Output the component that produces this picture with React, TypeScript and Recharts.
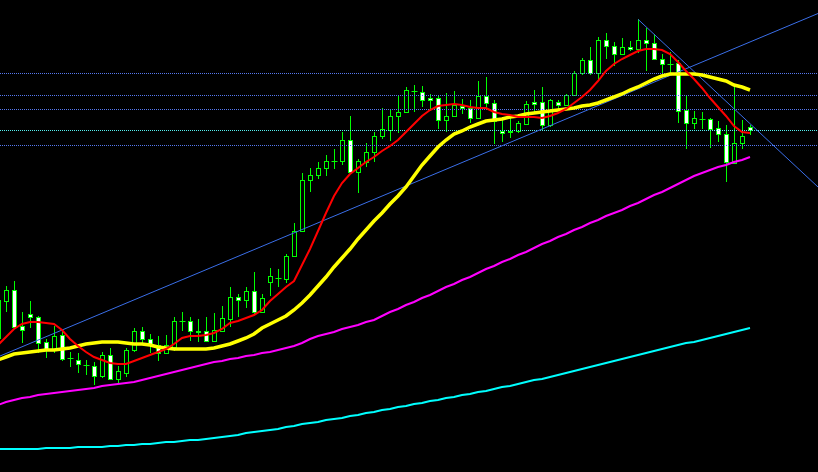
import { ComposedChart, Bar, Line, XAxis, YAxis, ReferenceLine } from "recharts";

// bar index of the first entry (the one half cut off at the left edge)
const FIRST_BAR = -1;

const opens = [
  113.4, 117.1, 118.2, 114.6, 115.8, 115.5, 113.0, 112.2, 113.7, 111.4, 111.2, 110.7, 110.6, 109.6, 111.7, 109.3, 109.9,
  112.2, 114.1, 113.3, 112.7, 111.9, 112.5, 115.1, 115.1, 114.1, 114.1, 113.1, 114.1, 115.3, 117.5, 117.2, 118.1,
  116.0, 119.0, 119.4, 119.3, 121.6, 124.1, 129.2, 129.7, 130.4, 131.1, 131.1, 133.2, 130.0, 131.0, 132.0, 133.6,
  134.2, 135.6, 136.0, 138.1, 138.0, 137.4, 137.4, 135.2, 135.6, 136.6, 136.4, 135.4, 137.6, 136.9, 134.1, 134.1,
  134.1, 134.8, 137.0, 137.0, 134.7, 137.0, 136.7, 137.7, 139.9, 141.2, 139.9, 143.2, 142.6, 141.8, 142.5, 142.3,
  143.2, 142.9, 141.3, 140.8, 140.9, 136.2, 134.9, 135.3, 135.3, 134.4, 133.8, 130.9, 132.9, 134.5,
];
const highs = [
  117.6, 118.6, 119.1, 116.0, 117.1, 115.6, 113.3, 114.6, 114.2, 112.0, 111.9, 111.2, 111.0, 112.0, 112.4, 110.6, 112.4,
  114.4, 114.5, 113.8, 113.6, 113.7, 115.5, 116.0, 115.5, 115.3, 115.5, 115.9, 116.6, 118.5, 117.8, 118.5, 120.0,
  117.8, 120.4, 120.3, 121.8, 124.9, 129.9, 130.4, 131.0, 131.7, 132.3, 134.0, 135.6, 131.3, 132.9, 134.0, 136.4,
  136.3, 137.7, 138.5, 138.7, 138.6, 137.8, 137.7, 137.9, 138.1, 137.3, 137.2, 139.1, 139.5, 137.2, 135.2, 135.5,
  135.1, 137.1, 138.2, 138.5, 137.3, 137.2, 137.8, 140.1, 141.4, 142.5, 143.5, 143.9, 143.0, 143.4, 143.1, 145.3,
  144.4, 143.8, 141.8, 142.0, 141.2, 137.6, 136.1, 136.0, 135.4, 135.1, 134.7, 138.6, 135.2, 134.7,
];
const lows = [
  113.2, 116.0, 114.4, 112.9, 114.4, 111.9, 111.4, 111.9, 111.1, 110.5, 109.9, 109.7, 108.7, 109.4, 109.2, 108.8, 109.5,
  112.0, 112.8, 111.9, 111.1, 111.9, 112.1, 114.1, 113.1, 113.0, 113.0, 113.0, 114.0, 114.5, 115.5, 116.4, 115.8,
  115.9, 117.6, 118.5, 118.9, 121.5, 124.0, 128.0, 129.3, 129.6, 130.3, 130.7, 129.9, 127.9, 130.5, 131.0, 133.3,
  133.1, 133.9, 135.9, 136.0, 136.5, 136.1, 134.3, 134.0, 135.5, 135.8, 134.9, 135.3, 136.5, 132.8, 133.0, 133.4,
  133.9, 134.7, 135.9, 134.2, 134.5, 136.1, 136.6, 137.6, 139.7, 139.7, 139.2, 141.3, 140.6, 141.7, 142.1, 141.9,
  140.1, 141.2, 139.9, 139.7, 134.9, 132.3, 134.3, 134.3, 132.4, 133.0, 129.0, 130.9, 132.3, 133.7,
];
const closes = [
  117.2, 118.2, 114.5, 114.2, 115.5, 112.9, 112.2, 113.6, 111.3, 111.4, 110.8, 110.7, 109.6, 111.7, 109.3, 110.1, 112.2,
  114.1, 113.3, 112.7, 111.9, 112.7, 115.1, 115.1, 114.1, 114.0, 113.1, 114.2, 115.4, 117.5, 117.2, 118.1, 116.0,
  117.4, 119.6, 119.4, 121.6, 124.1, 129.2, 129.7, 130.4, 131.1, 131.1, 133.2, 130.0, 131.1, 132.0, 133.6, 134.3,
  135.6, 136.0, 138.2, 138.1, 137.2, 137.2, 135.2, 135.6, 136.7, 136.4, 135.4, 137.6, 136.9, 135.1, 133.9, 134.0,
  134.9, 136.8, 136.8, 134.7, 137.2, 136.7, 137.7, 139.9, 141.2, 139.9, 143.2, 142.6, 141.8, 142.5, 142.3, 143.2,
  142.9, 141.3, 140.8, 140.8, 136.1, 134.9, 135.4, 135.3, 134.3, 133.8, 131.0, 132.9, 133.6, 134.2,
];

// moving averages, one value per bar
const maRed = [
  112.7, 113.5, 114.3, 114.8, 115.0, 115.0, 114.9, 114.8, 114.2, 113.3, 112.6, 112.0, 111.5, 111.2, 110.9, 110.8, 110.8,
  111.1, 111.4, 111.7, 112.0, 112.3, 112.8, 113.4, 113.6, 113.6, 113.7, 113.9, 114.3, 114.9, 115.1, 115.4, 115.7,
  116.2, 117.1, 117.8, 118.5, 119.1, 120.7, 122.3, 124.1, 125.9, 127.6, 128.9, 129.8, 130.4, 131.0, 131.5, 132.1,
  132.6, 133.2, 134.0, 134.8, 135.6, 136.2, 136.6, 136.7, 136.8, 136.7, 136.5, 136.4, 136.4, 136.0, 135.8, 135.7,
  135.5, 135.5, 135.5, 135.4, 135.6, 135.9, 136.3, 136.9, 137.5, 138.2, 139.1, 140.1, 140.8, 141.3, 141.7, 142.1,
  142.3, 142.3, 142.2, 141.8, 141.0, 140.1, 139.3, 138.4, 137.4, 136.5, 135.6, 134.6, 134.0, 133.9,
];
const maYellow = [
  111.2, 111.5, 111.8, 111.9, 112.0, 112.1, 112.2, 112.2, 112.3, 112.4, 112.6, 112.8, 112.9, 113.0, 113.0, 113.0, 112.9,
  112.8, 112.8, 112.7, 112.5, 112.4, 112.3, 112.3, 112.3, 112.3, 112.3, 112.4, 112.6, 112.8, 113.1, 113.4, 113.8,
  114.4, 114.8, 115.2, 115.6, 116.2, 116.9, 117.7, 118.6, 119.5, 120.5, 121.4, 122.3, 123.3, 124.2, 125.1, 125.9,
  126.8, 127.6, 128.5, 129.6, 130.7, 131.6, 132.5, 133.2, 133.8, 134.1, 134.5, 134.8, 135.1, 135.2, 135.3, 135.5,
  135.6, 135.8, 135.9, 136.0, 136.1, 136.2, 136.3, 136.4, 136.6, 136.7, 136.9, 137.2, 137.5, 137.8, 138.2, 138.5,
  138.9, 139.3, 139.6, 139.8, 139.8, 139.8, 139.8, 139.7, 139.5, 139.3, 139.1, 138.7, 138.5, 138.2,
];
const maMagenta = [
  106.7, 107.0, 107.2, 107.4, 107.5, 107.7, 107.8, 107.9, 108.0, 108.1, 108.2, 108.3, 108.4, 108.6, 108.7, 108.8, 108.9,
  109.0, 109.2, 109.4, 109.6, 109.8, 110.0, 110.2, 110.4, 110.6, 110.8, 111.0, 111.1, 111.3, 111.4, 111.6, 111.7,
  111.9, 112.0, 112.2, 112.4, 112.6, 112.9, 113.3, 113.6, 113.8, 114.0, 114.3, 114.5, 114.7, 115.0, 115.2, 115.6,
  116.0, 116.3, 116.7, 117.0, 117.4, 117.7, 118.1, 118.5, 118.8, 119.2, 119.5, 119.9, 120.3, 120.6, 121.0, 121.3,
  121.7, 122.0, 122.4, 122.8, 123.1, 123.5, 123.8, 124.2, 124.5, 124.9, 125.2, 125.6, 125.9, 126.2, 126.6, 126.9,
  127.3, 127.7, 128.0, 128.4, 128.8, 129.2, 129.6, 129.9, 130.2, 130.5, 130.7, 131.0, 131.2, 131.5,
];
const maCyan = [
  102.3, 102.3, 102.3, 102.3, 102.3, 102.3, 102.4, 102.4, 102.4, 102.4, 102.5, 102.5, 102.5, 102.5, 102.6, 102.6, 102.7,
  102.7, 102.8, 102.8, 102.9, 103.0, 103.0, 103.1, 103.2, 103.2, 103.3, 103.4, 103.5, 103.6, 103.7, 103.9, 104.0,
  104.1, 104.2, 104.3, 104.5, 104.6, 104.8, 104.9, 105.0, 105.2, 105.3, 105.4, 105.6, 105.7, 105.9, 106.0, 106.2,
  106.3, 106.5, 106.6, 106.8, 106.9, 107.1, 107.2, 107.4, 107.5, 107.7, 107.8, 108.0, 108.1, 108.3, 108.5, 108.6,
  108.8, 109.0, 109.2, 109.3, 109.5, 109.7, 109.9, 110.1, 110.3, 110.5, 110.7, 110.9, 111.1, 111.3, 111.5, 111.7,
  111.9, 112.1, 112.3, 112.5, 112.7, 112.9, 113.0, 113.2, 113.4, 113.6, 113.8, 114.0, 114.2, 114.4,
];

// horizontal levels
const levels = [139.85, 137.65, 136.25, 132.65];
const pivotLevel = 134.15;

// trend lines (bar index, price)
const riseLine = [
  { x: -0.75, y: 111.6 },
  { x: 101.5, y: 145.85 },
];
const fallLine = [
  { x: 79, y: 145.27 },
  { x: 101.5, y: 128.5 },
];

const data = opens.map((open, k) => ({
  bar: FIRST_BAR + k,
  open,
  high: highs[k],
  low: lows[k],
  close: closes[k],
  range: [lows[k], highs[k]],
  maRed: maRed[k],
  maYellow: maYellow[k],
  maMagenta: maMagenta[k],
  maCyan: maCyan[k],
}));

const GREEN = "#00ff00";

function Candle(props: any) {
  const { x, y, width, height, payload } = props;
  if (!payload || x == null || y == null) return null;
  const { open, close, high, low } = payload;
  const top = Math.min(y, y + height);
  const h = Math.abs(height);
  const span = high - low || 1;
  const py = (v: number) => top + ((high - v) / span) * h;
  const cx = Math.round(x + width / 2) + 0.5;
  const bTop = Math.round(py(Math.max(open, close))) + 0.5;
  const bBot = Math.round(py(Math.min(open, close))) + 0.5;
  const up = close > open;
  return (
    <g>
      <line x1={cx} x2={cx} y1={top} y2={top + h} stroke={GREEN} strokeWidth={1} />
      {bBot - bTop < 1 ? (
        <line x1={cx - 3} x2={cx + 3} y1={bTop} y2={bTop} stroke={GREEN} strokeWidth={1} />
      ) : (
        <rect x={cx - 2} y={bTop} width={4} height={bBot - bTop} fill={up ? "#000000" : "#ffffff"} stroke={GREEN} strokeWidth={1} />
      )}
    </g>
  );
}

export default function App() {
  return (
    <div style={{ position: "fixed", left: 0, top: 0, width: 818, height: 472, background: "#000000" }}>
      <ComposedChart width={818} height={472} data={data} margin={{ top: 0, right: 0, bottom: 0, left: 0 }}>
        <XAxis dataKey="bar" type="number" domain={[-0.75, 101.5]} allowDataOverflow hide />
        <YAxis type="number" domain={[100, 147.2]} allowDataOverflow hide />
        {levels.map((lv) => (
          <ReferenceLine key={lv} y={lv} stroke="#5577ee" strokeWidth={1} strokeDasharray="1 1" />
        ))}
        <ReferenceLine y={pivotLevel} stroke="#55eeee" strokeWidth={1} strokeDasharray="1 1" />
        <ReferenceLine segment={riseLine} stroke="#3a6ee8" strokeWidth={1} />
        <ReferenceLine segment={fallLine} stroke="#3a6ee8" strokeWidth={1} />
        <Line type="linear" dataKey="maCyan" stroke="#00ffff" strokeWidth={2} dot={false} activeDot={false} isAnimationActive={false} />
        <Line type="linear" dataKey="maMagenta" stroke="#ff00ff" strokeWidth={2} dot={false} activeDot={false} isAnimationActive={false} />
        <Line type="linear" dataKey="maYellow" stroke="#ffff00" strokeWidth={3.5} dot={false} activeDot={false} isAnimationActive={false} />
        <Line type="linear" dataKey="maRed" stroke="#ff0000" strokeWidth={2} dot={false} activeDot={false} isAnimationActive={false} />
        <Bar dataKey="range" barSize={5} shape={<Candle />} isAnimationActive={false} />
      </ComposedChart>
    </div>
  );
}
